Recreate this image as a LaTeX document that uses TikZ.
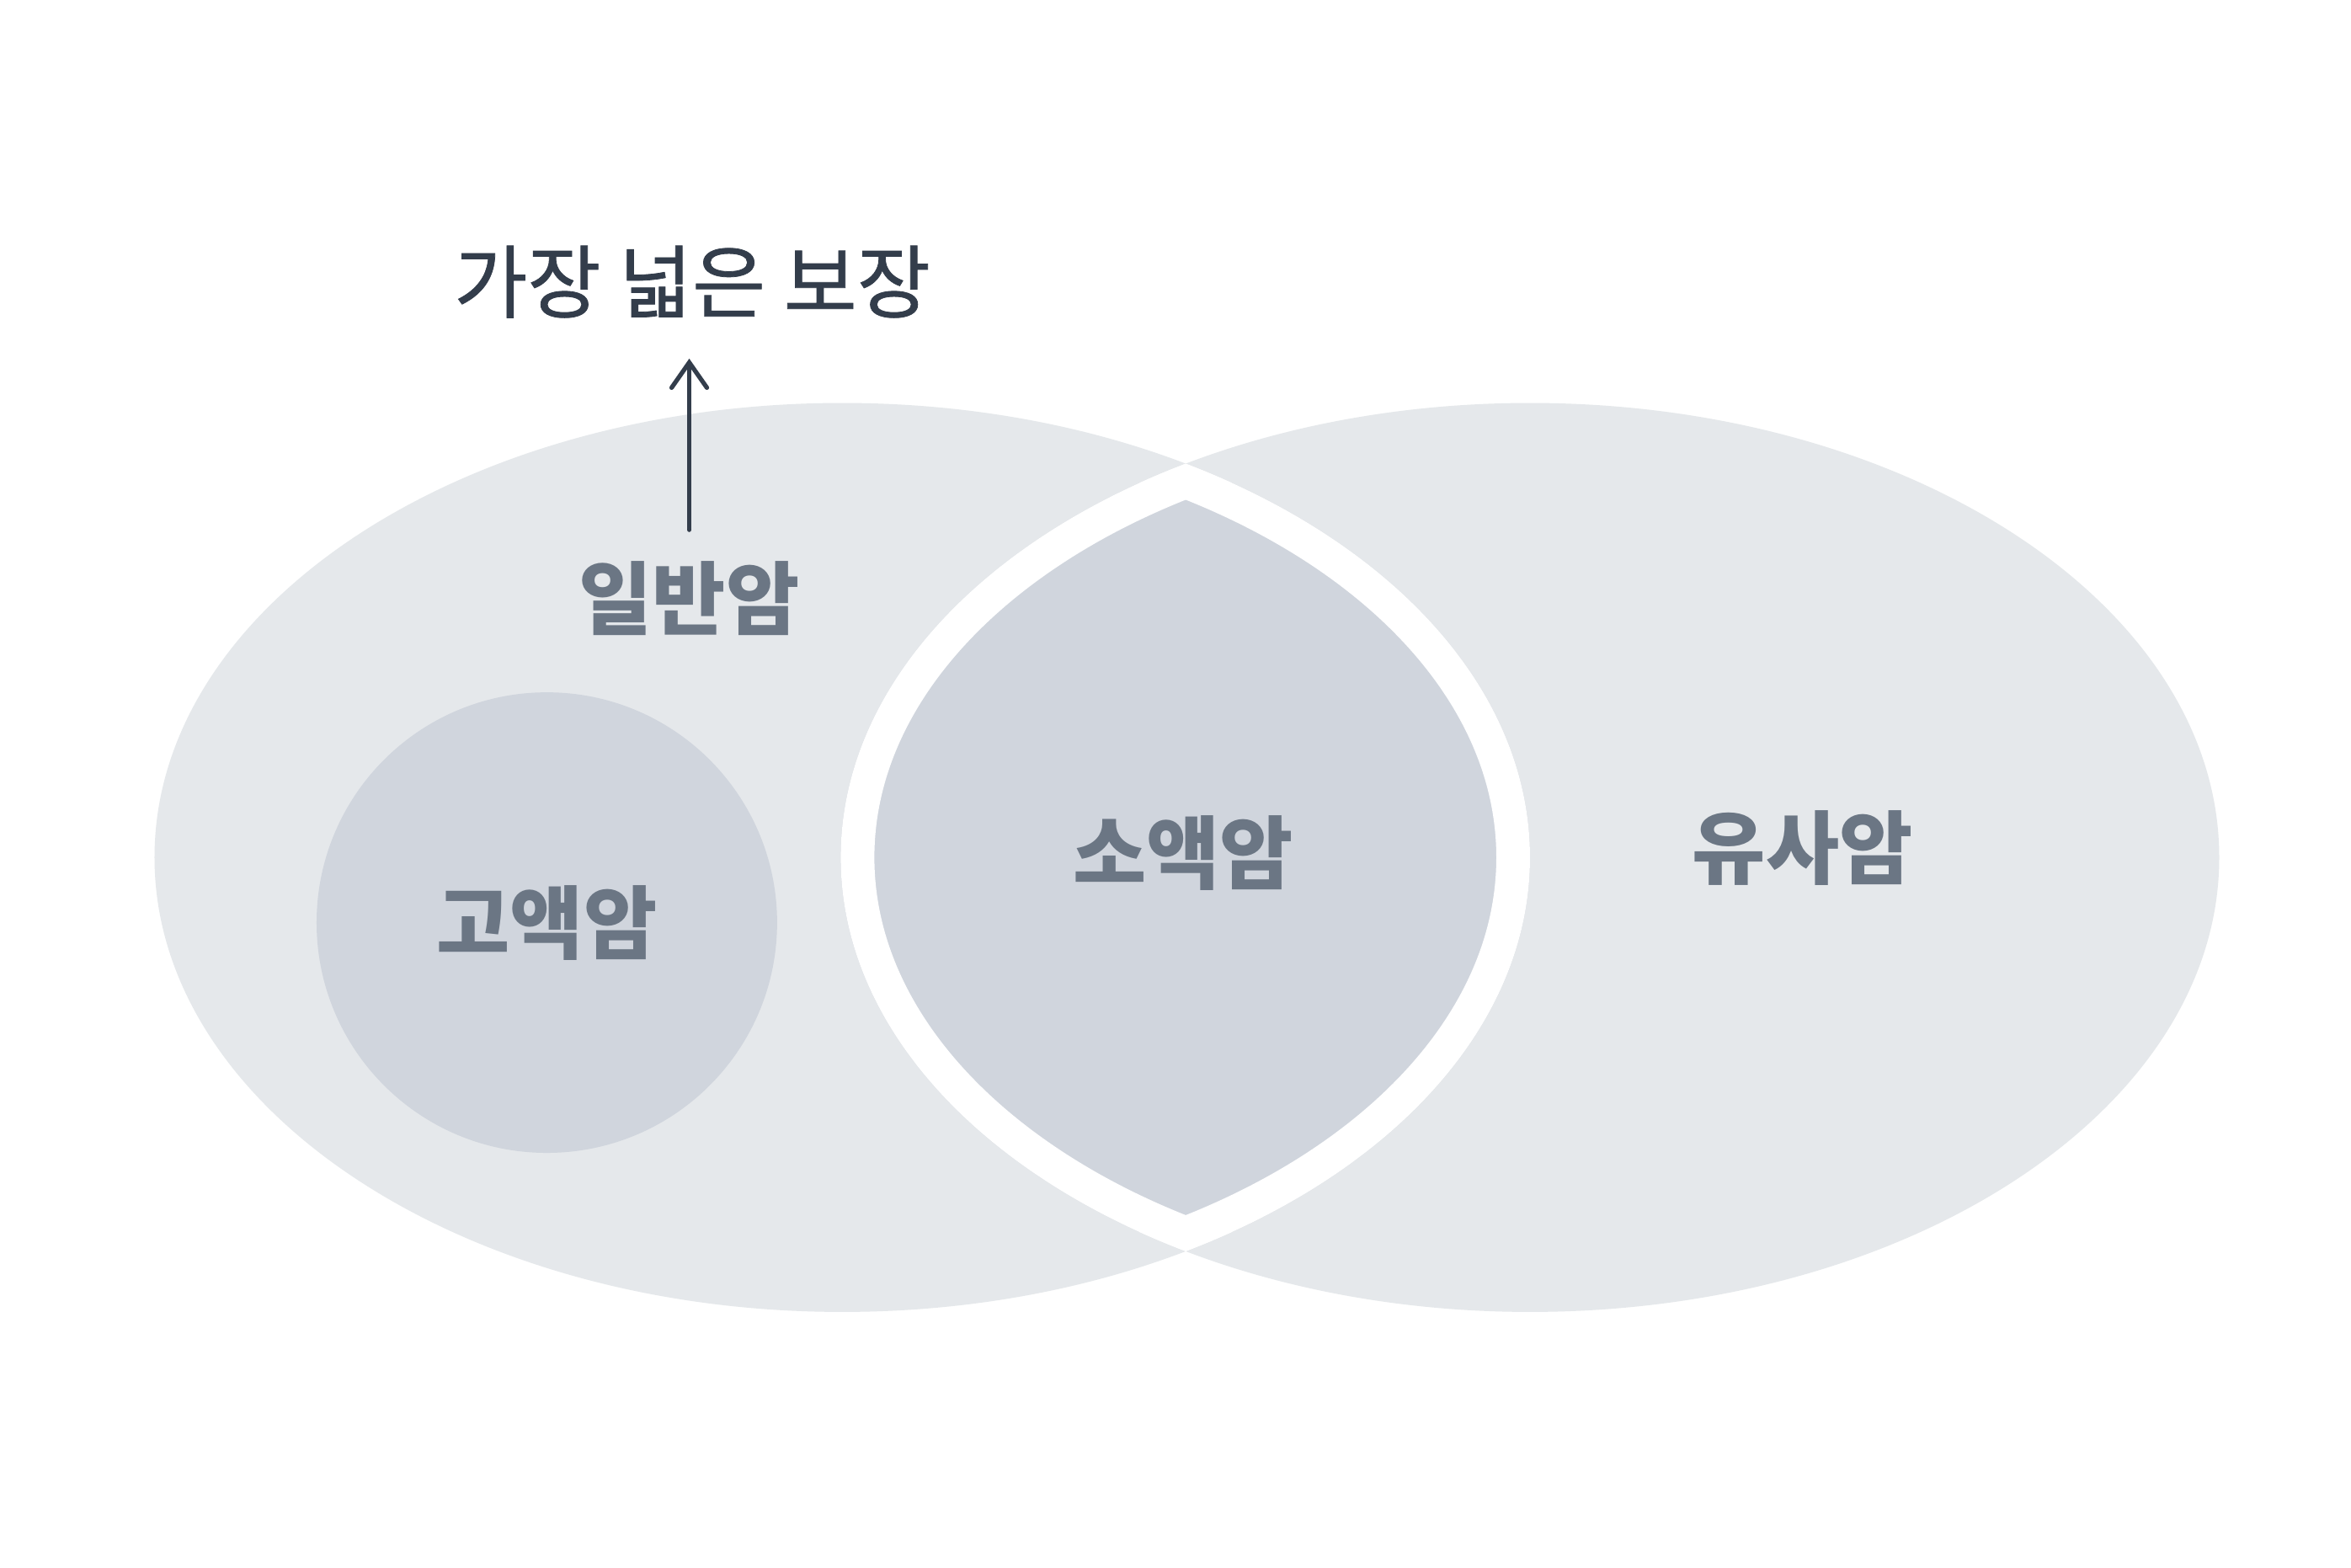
\documentclass[tikz,border=0pt]{standalone}
\usepackage{fontspec}
\setmainfont{Noto Sans CJK KR}
\newfontfamily\titlefont[FakeBold=0.8]{Noto Sans CJK KR}
\usepackage{tikz}
\usetikzlibrary{arrows.meta}

\definecolor{vennLight}{HTML}{E5E8EB}
\definecolor{vennDark}{HTML}{D0D5DD}
\definecolor{labelGray}{HTML}{6B7684}
\definecolor{titleGray}{HTML}{333D4B}

\begin{document}
\begin{tikzpicture}[x=0.018cm, y=-0.018cm,
  lbl/.style={text=labelGray, font=\fontsize{27}{32}\selectfont\bfseries},
  ttl/.style={text=titleGray, font=\fontsize{27}{32}\selectfont\titlefont},
  upArrow/.style={draw=titleGray, line width=1.5pt, line cap=round, -{Straight Barb[length=0.3cm, width=0.42cm, line cap=round]}}]
\fill[white] (0,0) rectangle (1552,1035);
\useasboundingbox (0,0) rectangle (1552,1035);

% two big sets
\fill[vennLight] (556,566) ellipse [x radius=454, y radius=300];
\fill[vennLight] (1010,566) ellipse [x radius=455, y radius=300];
\fill[vennDark] (361,609) circle [radius=152];

% overlap with white rim
\begin{scope}
\clip (556,566) ellipse [x radius=454, y radius=300];
\clip (1010,566) ellipse [x radius=455, y radius=300];
\fill[vennDark] (550,260) rectangle (1015,870);
\draw[white, line width=0.8cm] (556,566) ellipse [x radius=454, y radius=300];
\draw[white, line width=0.8cm] (1010,566) ellipse [x radius=455, y radius=300];
\end{scope}

\node [lbl] (general) at (455,395) {일반암};
\node [lbl] (high) at (361,609) {고액암};
\node [lbl] (small) at (781,563) {소액암};
\node [lbl] (similar) at (1190,560) {유사암};
\node [ttl] (title) at (457,186) {가장 넓은 보장};

\draw [upArrow, shorten <=0.25cm, shorten >=0.36cm] (general.north) -- (general.north |- title.south);
\end{tikzpicture}
\end{document}
